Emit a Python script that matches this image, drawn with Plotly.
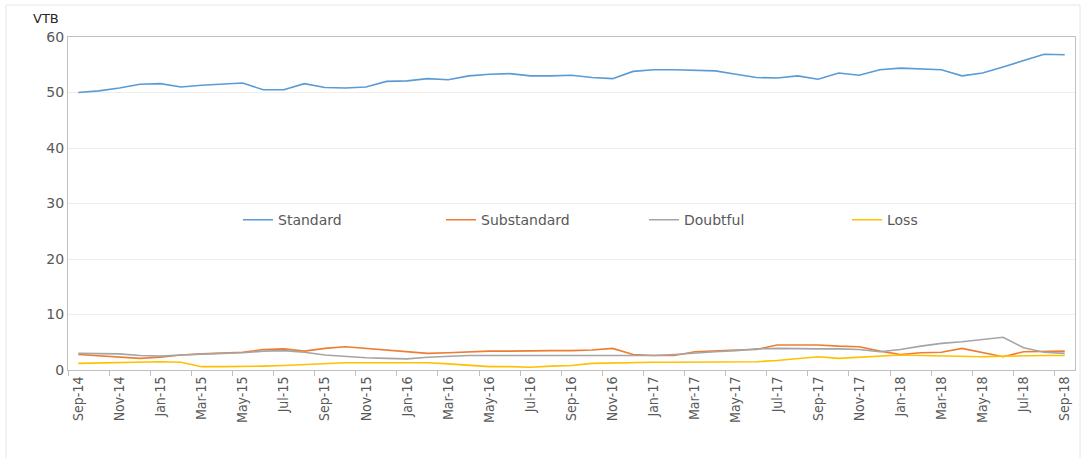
import plotly.graph_objects as go

# Monthly observations, Sep-14 .. Sep-18
months = [
    "Sep-14", "Oct-14", "Nov-14", "Dec-14", "Jan-15", "Feb-15", "Mar-15", "Apr-15",
    "May-15", "Jun-15", "Jul-15", "Aug-15", "Sep-15", "Oct-15", "Nov-15", "Dec-15",
    "Jan-16", "Feb-16", "Mar-16", "Apr-16", "May-16", "Jun-16", "Jul-16", "Aug-16",
    "Sep-16", "Oct-16", "Nov-16", "Dec-16", "Jan-17", "Feb-17", "Mar-17", "Apr-17",
    "May-17", "Jun-17", "Jul-17", "Aug-17", "Sep-17", "Oct-17", "Nov-17", "Dec-17",
    "Jan-18", "Feb-18", "Mar-18", "Apr-18", "May-18", "Jun-18", "Jul-18", "Aug-18",
    "Sep-18",
]

standard = [
    50.0, 50.3, 50.8, 51.5, 51.6, 51.0, 51.3, 51.5, 51.7, 50.5, 50.5, 51.6, 50.9,
    50.8, 51.0, 52.0, 52.1, 52.5, 52.3, 53.0, 53.3, 53.4, 53.0, 53.0, 53.1, 52.7,
    52.5, 53.8, 54.1, 54.1, 54.0, 53.9, 53.3, 52.7, 52.6, 53.0, 52.4, 53.5, 53.1,
    54.1, 54.4, 54.2, 54.1, 53.0, 53.5, 54.6, 55.7, 56.9, 56.8,
]
substandard = [
    2.8, 2.6, 2.4, 2.1, 2.3, 2.7, 2.9, 3.0, 3.2, 3.7, 3.8, 3.4, 3.9, 4.2, 3.9, 3.6,
    3.4, 3.0, 3.1, 3.3, 3.4, 3.4, 3.5, 3.5, 3.5, 3.6, 3.9, 2.8, 2.6, 2.6, 3.3, 3.5,
    3.6, 3.7, 4.5, 4.5, 4.5, 4.3, 4.2, 3.4, 2.8, 3.1, 3.2, 3.9, 3.1, 2.4, 3.3, 3.4,
    3.4,
]
doubtful = [
    3.0, 3.0, 2.9, 2.6, 2.5, 2.7, 2.9, 3.0, 3.1, 3.4, 3.5, 3.2, 2.7, 2.4, 2.2, 2.1,
    2.0, 2.3, 2.5, 2.6, 2.6, 2.6, 2.6, 2.6, 2.6, 2.6, 2.6, 2.6, 2.6, 2.8, 3.1, 3.3,
    3.5, 3.8, 3.9, 3.8, 3.8, 3.8, 3.7, 3.3, 3.7, 4.3, 4.8, 5.1, 5.5, 5.9, 4.0, 3.2,
    3.0,
]
loss = [
    1.2, 1.3, 1.4, 1.5, 1.5, 1.4, 0.6, 0.6, 0.6, 0.7, 0.8, 1.0, 1.2, 1.3, 1.3, 1.3,
    1.2, 1.3, 1.1, 0.8, 0.6, 0.6, 0.5, 0.7, 0.8, 1.2, 1.3, 1.4, 1.4, 1.4, 1.4, 1.5,
    1.5, 1.5, 1.7, 2.0, 2.4, 2.1, 2.3, 2.6, 2.7, 2.6, 2.5, 2.4, 2.4, 2.5, 2.6, 2.6,
    2.6,
]

series = [
    ("Standard", standard, "#5B9BD5"),
    ("Substandard", substandard, "#ED7D31"),
    ("Doubtful", doubtful, "#A5A5A5"),
    ("Loss", loss, "#FFC000"),
]

x = list(range(len(months)))

fig = go.Figure()
for name, values, color in series:
    fig.add_trace(go.Scatter(
        x=x, y=values, name=name, mode="lines",
        line=dict(color=color, width=1.6),
    ))

axis_color = "#BFBFBF"
tick_font = dict(family="Liberation Sans Narrow, DejaVu Sans Condensed, Arial Narrow, sans-serif",
                 size=14, color="#595959")

fig.update_layout(
    width=1088, height=458,
    margin=dict(l=68, r=13, t=37, b=88),
    paper_bgcolor="white", plot_bgcolor="white",
    showlegend=True,
    legend=dict(
        orientation="h", x=0.572, xanchor="center", y=0.45, yanchor="middle",
        font=dict(family="DejaVu Sans, sans-serif", size=14, color="#595959"),
        bgcolor="rgba(0,0,0,0)", entrywidth=158, entrywidthmode="pixels",
        itemwidth=30,
    ),
    xaxis=dict(
        range=[-0.5, len(months) - 0.5],
        tickmode="array", tickvals=x[::2], ticktext=months[::2],
        tickangle=-90, tickfont=tick_font,
        ticks="", showgrid=False, zeroline=False,
        showline=True, mirror=True, linecolor=axis_color, linewidth=1,
        minor=dict(tick0=1.5, dtick=2, ticks="outside", ticklen=5,
                   tickcolor=axis_color, showgrid=False),
    ),
    yaxis=dict(
        range=[0, 60], dtick=10,
        tickfont=dict(family="DejaVu Sans, sans-serif", size=14, color="#595959"),
        showgrid=True, gridcolor="#EFEFEF", zeroline=False,
        showline=True, mirror=True, linecolor=axis_color, linewidth=1,
        ticks="", ticklen=0,
    ),
    annotations=[dict(
        text="VTB", xref="paper", yref="paper", x=-0.037, y=1.057,
        xanchor="left", yanchor="middle", showarrow=False,
        font=dict(family="DejaVu Sans, sans-serif", size=13, color="#262626"),
    )],
    shapes=[dict(
        type="rect", xref="paper", yref="paper",
        x0=-0.0616, x1=1.005, y0=-0.3, y1=1.096,
        line=dict(color="#E6E6E6", width=1), layer="below",
    )],
)

fig.write_html("out.html")
